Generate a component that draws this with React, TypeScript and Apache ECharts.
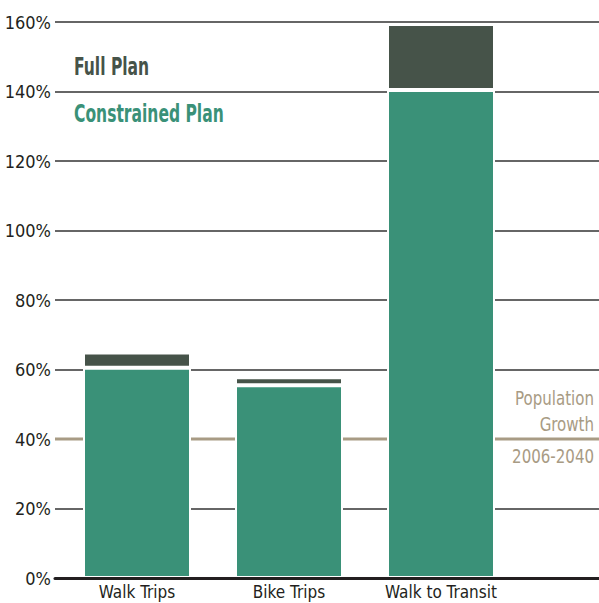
import React, { useEffect, useRef } from "react";
import * as echarts from "echarts";

const categories = ["Walk Trips", "Bike Trips", "Walk to Transit"];
const constrainedPlan = [60.5, 55.5, 140.4];
const fullPlanExtra = [4.4, 2.3, 19.0];
const populationGrowth = 40;
const yTicks = [0, 20, 40, 60, 80, 100, 120, 140, 160];

const FONT = "'DejaVu Sans Condensed', 'Liberation Sans Narrow', sans-serif";
const GREEN = "#3a9178";
const DARK = "#465349";
const TAN = "#a89b84";
const TEXT = "#231f20";

export default function App() {
  const ref = useRef<HTMLDivElement>(null);
  useEffect(() => {
    document.body.style.margin = "0";
    const chart = echarts.init(ref.current!, null, { renderer: "svg" });
    chart.setOption({
      animation: false,
      grid: [
        { left: 55, right: 0, top: 22, bottom: 25 },
        { left: 61, width: 456, top: 22, bottom: 25 },
      ],
      xAxis: [
        {
          gridIndex: 0,
          type: "value",
          min: 0,
          max: 1,
          z: 10,
          axisLine: { show: true, onZero: false, lineStyle: { color: TEXT, width: 3 } },
          axisTick: { show: false },
          axisLabel: { show: false },
          splitLine: { show: false },
        },
        {
          gridIndex: 1,
          type: "category",
          data: categories,
          axisLine: { show: false },
          axisTick: { show: false },
          axisLabel: {
            color: TEXT,
            fontFamily: FONT,
            fontSize: 17,
            margin: 5,
          },
        },
      ],
      yAxis: [
        {
          gridIndex: 0,
          type: "value",
          min: yTicks[0],
          max: yTicks[yTicks.length - 1],
          interval: 20,
          axisLine: { show: false },
          axisTick: { show: false },
          axisLabel: {
            formatter: "{value}%",
            color: TEXT,
            fontFamily: FONT,
            fontSize: 18,
            margin: 4,
          },
          splitLine: { show: true, lineStyle: { color: "#333333", width: 1.5 } },
        },
        {
          gridIndex: 1,
          type: "value",
          min: 0,
          max: 160,
          interval: 20,
          show: false,
        },
      ],
      series: [
        {
          type: "line",
          xAxisIndex: 0,
          yAxisIndex: 0,
          data: [
            [0, populationGrowth],
            [1, populationGrowth],
          ],
          symbol: "none",
          lineStyle: { color: TAN, width: 3 },
          z: 1,
          silent: true,
        },
        {
          name: "Constrained Plan",
          type: "bar",
          xAxisIndex: 1,
          yAxisIndex: 1,
          stack: "plan",
          data: constrainedPlan,
          barWidth: 108,
          itemStyle: { color: GREEN, borderColor: "#ffffff", borderWidth: 2 },
          z: 3,
        },
        {
          name: "Full Plan",
          type: "bar",
          xAxisIndex: 1,
          yAxisIndex: 1,
          stack: "plan",
          data: fullPlanExtra,
          barWidth: 108,
          itemStyle: { color: DARK, borderColor: "#ffffff", borderWidth: 2 },
          z: 3,
        },
      ],
      graphic: [
        {
          type: "text",
          x: 74,
          y: 67,
          scaleX: 0.72,
          style: {
            text: "Full Plan",
            fill: DARK,
            font: `bold 24px ${FONT}`,
            verticalAlign: "middle",
          },
        },
        {
          type: "text",
          x: 74,
          y: 114,
          scaleX: 0.72,
          style: {
            text: "Constrained Plan",
            fill: GREEN,
            font: `bold 24px ${FONT}`,
            verticalAlign: "middle",
          },
        },
        {
          type: "text",
          x: 594,
          y: 398,
          scaleX: 0.88,
          style: {
            text: "Population",
            fill: TAN,
            font: `19px ${FONT}`,
            align: "right",
            verticalAlign: "middle",
          },
        },
        {
          type: "text",
          x: 594,
          y: 424,
          scaleX: 0.88,
          style: {
            text: "Growth",
            fill: TAN,
            font: `19px ${FONT}`,
            align: "right",
            verticalAlign: "middle",
          },
        },
        {
          type: "text",
          x: 594,
          y: 456,
          scaleX: 0.88,
          style: {
            text: "2006-2040",
            fill: TAN,
            font: `19px ${FONT}`,
            align: "right",
            verticalAlign: "middle",
          },
        },
      ],
    });
    return () => chart.dispose();
  }, []);
  return <div ref={ref} style={{ width: 599, height: 603 }} />;
}
